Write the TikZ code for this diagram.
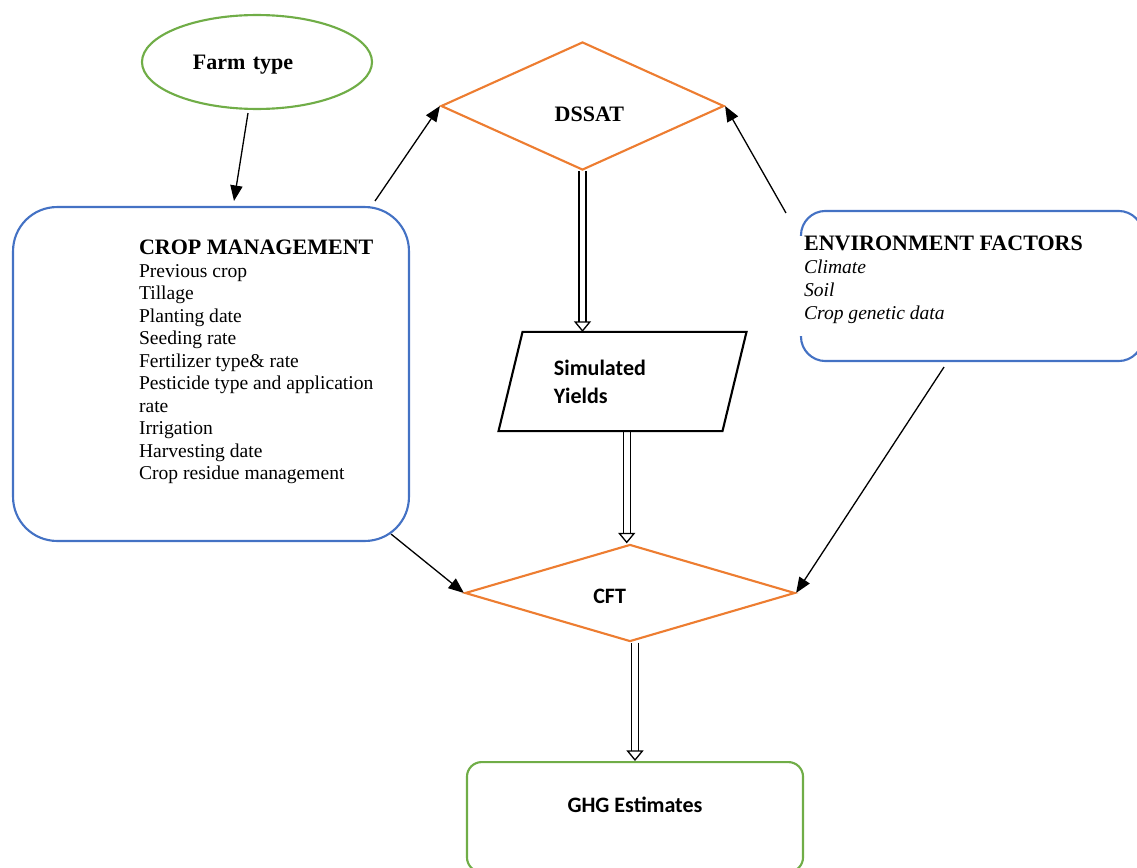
\documentclass[tikz,border=0pt]{standalone}
\usepackage{fontspec}
\setmainfont{Liberation Serif}
\newfontfamily\calibri{Carlito}
\usepackage{tikz}
\usetikzlibrary{shapes.geometric,arrows.meta}
\definecolor{wordorange}{HTML}{ED7D31}
\definecolor{wordblue}{HTML}{4472C4}
\definecolor{wordgreen}{HTML}{70AD47}
\pgfdeclarelayer{bg}
\pgfsetlayers{bg,main}

\begin{document}
\begin{tikzpicture}[x=0.613pt, y=-0.613pt, line width=1.3pt,
  head/.style={font=\fontsize{13.5}{16}\selectfont\bfseries},
  cal/.style={font=\calibri\bfseries\fontsize{13.5}{17}\selectfont},
  body/.style={font=\fontsize{12}{13.8}\selectfont, align=left, anchor=north west, inner sep=0pt},
  dia/.style={shape=diamond, draw=wordorange, inner sep=0pt},
  arr/.style={-{Triangle[length=9.5pt, width=7.5pt]}, line width=0.8pt},
  hollow/.style={double=white, double distance=3.4pt, line width=0.8pt,
    -{Triangle[open, length=6.5pt, width=10.5pt, line width=0.8pt]}}]
  \useasboundingbox (0,0) rectangle (1137,867);
  \clip (0,0) rectangle (1137,867);

  \node (farm) [ellipse, draw=wordgreen, minimum width=141pt, minimum height=57.6pt,
    text width=78.5pt, text height=12.5pt, text depth=3pt, align=left, head] at (257,62) {Farm type};

  \node (crop) [rectangle, draw=wordblue, rounded corners=27pt,
    minimum width=242.7pt, minimum height=204.7pt] at (211,374) {};
  \node (croptext) [body] at (138,239) {{\fontsize{13.5}{13.8}\selectfont\bfseries CROP MANAGEMENT}\\
    Previous crop\\Tillage\\Planting date\\Seeding rate\\Fertilizer type\& rate\\
    Pesticide type and application\\rate\\Irrigation\\Harvesting date\\Crop residue management};

  \node (dssat) [dia, minimum width=173.5pt, minimum height=78.5pt, text width=50.9pt,
    align=right, text height=18.7pt, head] at (582.5,106) {DSSAT};

  \node (sim) [inner sep=0pt, minimum width=136pt, minimum height=59.5pt,
    text width=84pt, align=left, cal] at (622.5,381.5) {Simulated\\Yields};
  \draw ([shift={(12,0)}]sim.north west) -- ([shift={(12,0)}]sim.north east)
    -- ([shift={(-12,0)}]sim.south east) -- ([shift={(-12,0)}]sim.south west) -- cycle;

  \node (envbox) [minimum width=208.4pt, minimum height=90.7pt, inner sep=0pt] at (972,286) {};
  \draw [wordblue, rounded corners=15pt] ([shift={(0,25)}]envbox.north west) -- (envbox.north west)
    -- (envbox.north east) -- (envbox.south east) -- (envbox.south west)
    -- ([shift={(0,-25)}]envbox.south west);
  \node (envtext) [body, font=\fontsize{12}{14.1}\selectfont] at (803,235)
    {{\fontsize{13.5}{14.1}\selectfont\bfseries ENVIRONMENT FACTORS}\\
    \textit{Climate}\\\textit{Soil}\\\textit{Crop genetic data}};

  \node (cft) [dia, aspect=3.4, minimum width=202.3pt, minimum height=59.5pt,
    text width=45pt, text height=12.5pt, align=left, cal] at (630,593) {CFT};

  \node (ghg) [rectangle, draw=wordgreen, rounded corners=9pt, anchor=north,
    minimum width=206pt, minimum height=67.4pt, text depth=14.8pt, cal] at (635,761) {GHG Estimates};

  \begin{pgfonlayer}{bg}
    \draw ([shift={(-9,3)}]farm.south) edge [arr] ([shift={(23,-5)}]crop.north);
    \draw ([shift={(-35,-5)}]crop.north east) edge [arr] (dssat.west);
    \draw ([shift={(-15,2)}]envbox.north west) edge [arr] (dssat.east);
    \draw ([shift={(-19,-8)}]crop.south east) edge [arr] (cft.west);
    \draw ([shift={(-28,6)}]envbox.south) edge [arr] (cft.east);

    \draw (dssat.south) edge [hollow] (dssat.south |- sim.north);
    \draw ([xshift=-2pt]cft.north |- sim.south) edge [hollow] ([xshift=-2pt]cft.north);
    \draw (ghg.north |- cft.south) edge [hollow] (ghg.north);
  \end{pgfonlayer}
\end{tikzpicture}
\end{document}
